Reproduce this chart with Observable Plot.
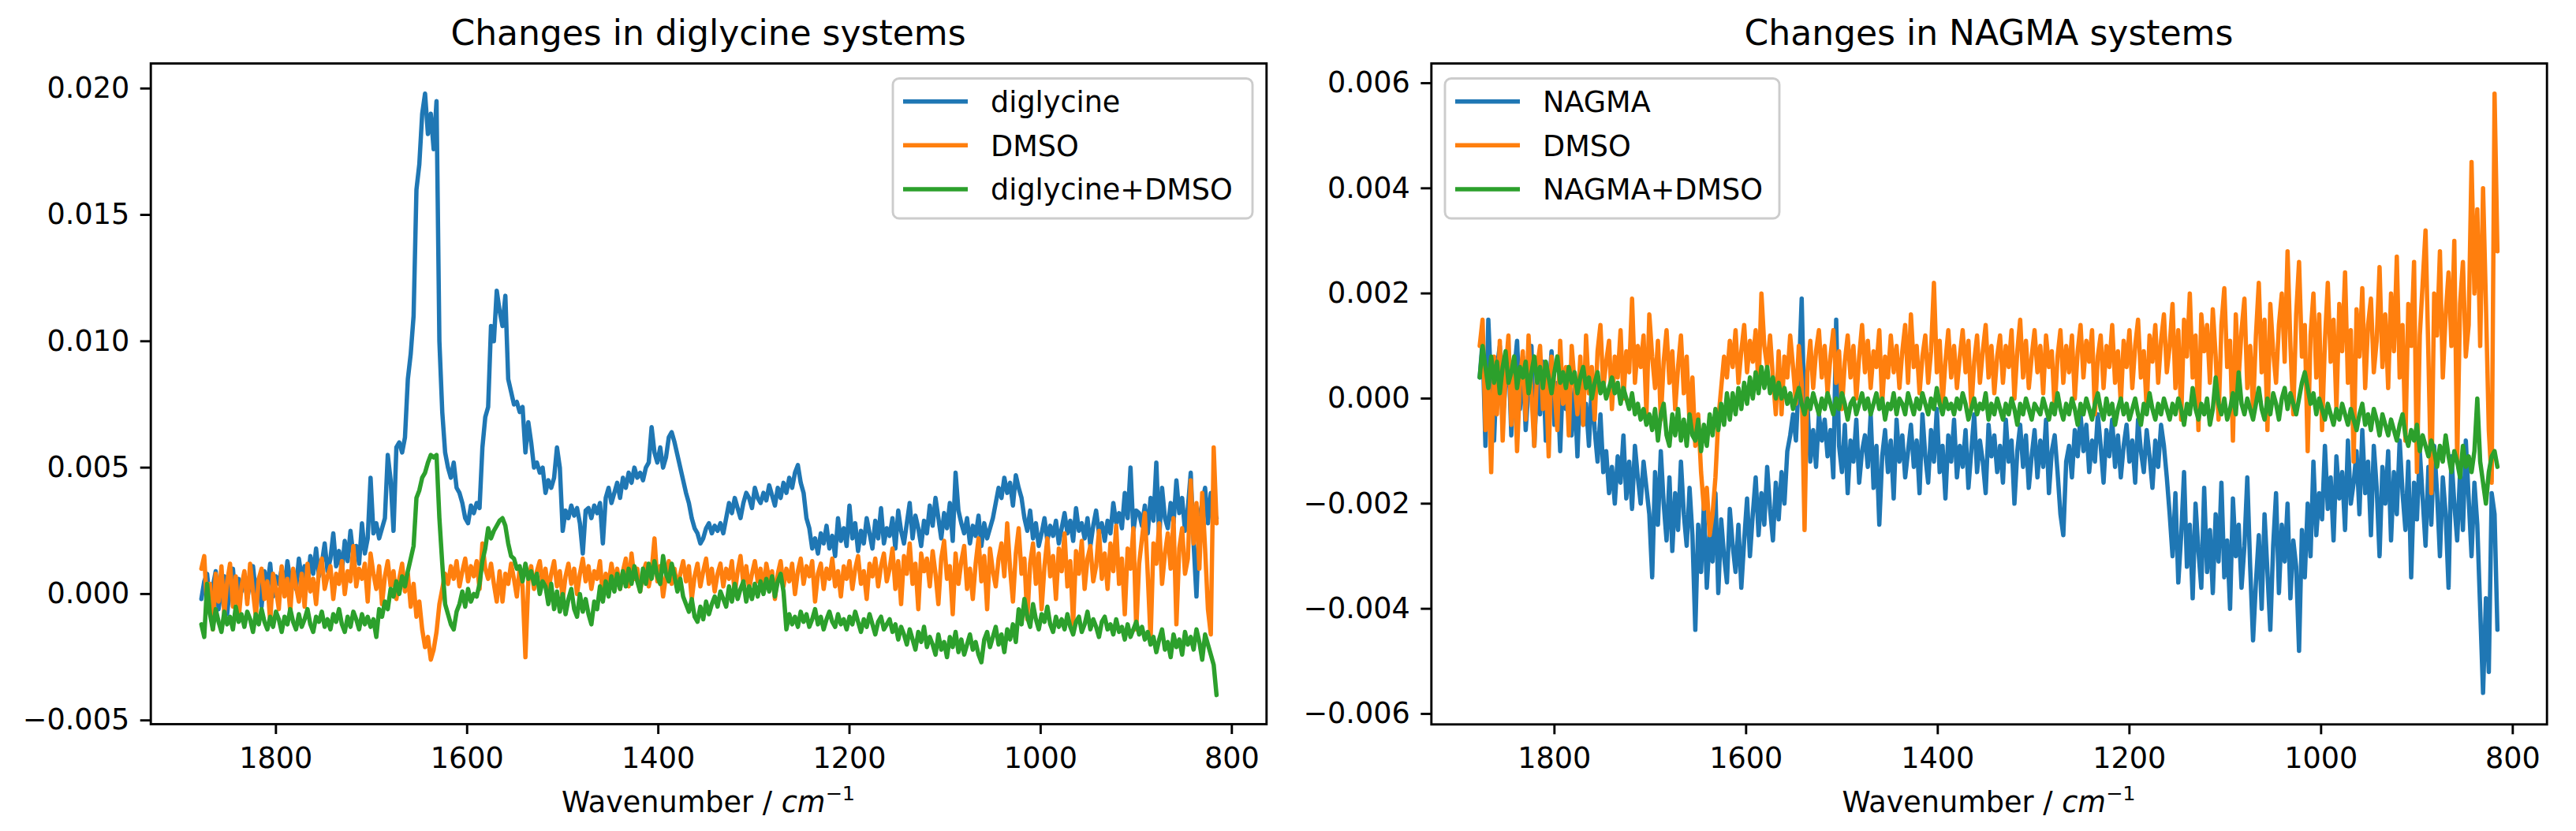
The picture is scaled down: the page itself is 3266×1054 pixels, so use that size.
<!DOCTYPE html>
<html><head><meta charset="utf-8">
<script src="https://cdn.jsdelivr.net/npm/d3@7"></script>
<script src="https://cdn.jsdelivr.net/npm/@observablehq/plot@0.6"></script>
<style>
html,body{margin:0;padding:0;background:#fff;}
#page{position:relative;width:3266px;height:1054px;overflow:hidden;font-family:"DejaVu Sans",sans-serif;background:#fff;}
.panel{position:absolute;top:0;}
#overlay{position:absolute;left:0;top:0;pointer-events:none;}
</style></head><body><div id="page"></div>
<script>
// wavenumber grid (cm^-1): one reading every 3 cm^-1, 1878 -> 816
const wavenumbers = d3.range(1878, 815, -3);

// ---- series values in units of 1e-4 (15 readings per row, 45 cm^-1 per row) ----
const diglycine = [
  -2, 5, 8, -4, 3, 9, -6, 2, 7, -8, 4, 10, -3, 6, 1,
  8, -2, 5, 11, 0, 6, -5, 9, 3, 12, -1, 7, 4, 10, 2,
  13, 5, 9, 2, 14, 6, 11, 3, 15, 8, 18, 7, 12, 20, 9,
  14, 24, 11, 17, 9, 21, 13, 25, 15, 19, 12, 28, 16, 22, 46,
  24, 28, 22, 26, 30, 55, 45, 25, 58, 60, 56, 62, 85, 95, 110,
  160, 170, 190, 198, 182, 190, 176, 195, 100, 72, 56, 50, 46, 52, 42,
  40, 36, 30, 28, 35, 32, 36, 34, 58, 70, 74, 106, 100, 120, 112,
  106, 118, 85, 80, 75, 76, 72, 74, 56, 68, 60, 50, 52, 48, 50,
  40, 45, 42, 46, 58, 50, 25, 33, 30, 35, 31, 34, 28, 16, 33,
  34, 30, 35, 32, 36, 20, 38, 42, 36, 40, 44, 38, 46, 42, 48,
  44, 50, 46, 48, 45, 50, 52, 66, 56, 52, 58, 50, 54, 62, 64,
  60, 55, 50, 45, 40, 36, 30, 26, 24, 20, 22, 26, 28, 24, 27,
  25, 28, 24, 30, 36, 32, 38, 34, 30, 36, 40, 38, 34, 42, 38,
  36, 40, 37, 43, 39, 35, 42, 38, 44, 40, 46, 42, 48, 51, 44,
  40, 30, 26, 18, 22, 16, 24, 20, 27, 18, 23, 15, 30, 21, 26,
  19, 35, 22, 28, 17, 25, 20, 30, 24, 18, 29, 22, 34, 20, 26,
  23, 30, 18, 33, 25, 20, 28, 36, 22, 31, 26, 19, 29, 24, 35,
  27, 38, 30, 22, 32, 26, 36, 21, 48, 33, 28, 24, 30, 20, 27,
  23, 31, 19, 28, 22, 26, 30, 36, 42, 38, 46, 40, 44, 35, 47,
  42, 38, 30, 25, 33, 22, 28, 19, 24, 30, 21, 27, 23, 29, 20,
  26, 32, 24, 29, 21, 34, 25, 28, 22, 30, 19, 27, 33, 24, 28,
  21, 29, 24, 36, 28, 32, 26, 40, 30, 50, 25, 33, 32, 27, 35,
  24, 38, 29, 52, 22, 42, 30, 26, 36, 28, 45, 32, 38, 25, 34,
  48, 20, -1, 30, 36, 42, 28, 40, 33, 30
];
// the same DMSO spectrum is shown in both panels
const dmso = [
  10, 15, -6, 4, -14, 8, -3, 11, -8, 5, 12, -5, 7, -10, 3,
  9, -4, 12, 1, -9, 6, 10, -2, 5, -11, 8, 2, -6, 11, -1,
  6, -7, 10, 3, -3, 8, -5, 12, 1, 6, -4, 9, 14, 2, 7,
  11, -2, 8, 4, 13, 0, 9, 5, 19, 3, 10, 6, 12, -3, 16,
  8, 2, 11, -4, 7, 13, 3, 9, -2, 6, 12, 1, 8, -5, 4,
  -9, -3, -14, -21, -17, -26, -22, -15, -4, 2, 8, 4, 11, 6, 13,
  3, 9, 14, 5, 11, 7, 13, 2, 20, 10, 6, 12, 4, -3, 9,
  -3, 8, 4, 12, 6, -1, 10, 3, -25, 5, 11, 2, 9, 13, 4,
  10, 1, 8, 13, 3, 9, -2, 7, 12, 4, 10, 0, 8, 14, 5,
  11, 2, 9, 6, 13, -1, 8, 4, 12, 5, 10, 2, 9, 14, 3,
  16, 6, 10, 1, 8, 12, 3, 9, 22, 5, 11, -1, 7, 13, 4,
  10, 2, 8, 13, 5, 11, -2, 7, 12, 3, 9, 14, 4, 10, 1,
  8, 12, 3, 10, 6, 13, 0, 9, 15, 4, 11, 2, 8, 13, 5,
  10, 1, 12, 6, 9, -2, 8, 13, 3, 10, 5, 12, 0, 9, 14,
  4, 11, 7, 13, -3, 8, 12, 2, 10, 6, 14, 3, 9, -1, 11,
  6, 13, 2, 10, 15, 4, 9, -2, 12, 7, 14, 3, 11, 16, 5,
  10, 18, 2, 13, -4, 15, 8, 20, 4, 12, -6, 16, 9, 14, 3,
  17, 8, -4, 14, 21, 6, 11, -8, 16, 4, 13, 19, 2, 10, -2,
  12, 22, 5, 15, -6, 18, 9, 3, 14, 20, 7, 28, 10, -3, 16,
  26, 8, 14, -10, 12, 20, 4, 16, -6, 11, 22, 7, 15, -2, 18,
  9, 24, 3, 13, -12, 17, 8, 21, 2, 14, 19, 5, 11, 25, 6,
  16, 2, 20, 9, 27, 4, 14, -8, 18, 10, 26, -14, 12, 22, 32,
  8, -18, 20, 12, 28, 4, 16, 24, 10, 30, -12, 18, 26, 8, 14,
  45, 20, 36, 10, 40, 18, -6, -16, 58, 28
];
const diglycineDmso = [
  -12, -17, 4, -8, -14, -6, -11, -15, -7, -12, -9, -14, -5, -11, -8,
  -13, -7, -10, -15, -8, -12, -6, -11, -14, -9, -13, -7, -10, -15, -9,
  -12, -6, -11, -14, -8, -13, -10, -6, -12, -15, -9, -11, -7, -13, -10,
  -14, -8, -11, -6, -12, -15, -9, -13, -7, -10, -14, -8, -12, -9, -13,
  -10, -17, -6, -9, -3, -6, 2, -1, 5, 0, 7, 3, 9, 14, 19,
  38, 41, 46, 48, 52, 55, 54, 55, 30, 12, -4, -8, -12, -14, -7,
  -4, 1, -5, 2, -3, 0, -1, 4, 13, 18, 26, 22, 25, 27, 29,
  30, 27, 20, 15, 14, 10, 11, 5, 12, 6, 9, 4, 8, 0, 5,
  3, -4, 4, -6, 1, -7, 0, -8, -2, 2, -6, -9, 0, -7, -2,
  -8, -12, -3, -6, 3, -3, 5, -1, 7, 1, 8, 2, 9, 3, 10,
  4, 11, 5, 1, 10, 4, 12, 6, 13, 7, 4, 15, 8, 5, 12,
  7, 1, 6, -1, -4, -7, -2, -9, -11, -5, -10, -3, -8, -4, -1,
  -5, 1, -2, -5, 3, -3, 4, -2, 2, 5, -3, 3, -2, 4, -1,
  5, 0, 6, 1, 7, -1, 5, 8, 1, -14, -8, -12, -9, -13, -7,
  -11, -8, -13, -10, -6, -12, -9, -14, -10, -7, -11, -13, -8, -12, -10,
  -14, -9, -12, -7, -11, -15, -10, -13, -8, -12, -16, -11, -9, -14, -12,
  -10, -15, -12, -18, -13, -16, -20, -14, -18, -22, -15, -19, -13, -21, -17,
  -20, -24, -16, -22, -19, -25, -17, -21, -15, -23, -18, -24, -20, -16, -22,
  -19, -24, -27, -18, -15, -21, -17, -13, -20, -16, -23, -14, -18, -12, -19,
  -6, -12, -2, -9, -13, -4, -10, -14, -8, -11, -5, -12, -15, -9, -13,
  -10, -14, -8, -13, -16, -11, -9, -15, -12, -7, -14, -10, -13, -17, -11,
  -9, -14, -12, -16, -10, -15, -13, -18, -12, -17, -14, -11, -16, -13, -18,
  -15, -20, -17, -23, -18, -14, -22, -19, -25, -16, -21, -18, -24, -15, -20,
  -17, -22, -14, -19, -26, -16, -20, -24, -28, -40
];
const nagma = [
  4, 11, -9, 15, 2, -8, 6, 10, -4, 3, 9, -7, 5, 11, -2,
  8, -6, 2, 10, -9, 4, -3, 7, -8, 1, 9, -5, 3, -10, 5,
  -2, 6, -7, 2, -11, 4, -5, -1, -9, 3, -6, -12, -3, -14, -10,
  -18, -13, -20, -11, -16, -7, -19, -12, -21, -9, -15, -20, -12, -17, -22,
  -34, -14, -24, -10, -20, -27, -15, -29, -18, -25, -12, -22, -28, -17, -26,
  -44, -24, -33, -20, -36, -26, -31, -18, -37, -23, -30, -35, -21, -28, -33,
  -24, -36, -27, -19, -30, -22, -15, -26, -18, -24, -13, -21, -27, -16, -23,
  -14, -20, -10, -7, -3, -8, 4, 19, -5, -1, -12, -6, -13, -3, -8,
  -4, -11, -6, -15, 15, -9, -14, -5, -18, -8, -12, -4, -16, -10, -7,
  -13, -3, -17, -9, -24, -11, -6, -14, -8, -19, -4, -12, -7, -15, -10,
  -5, -13, -8, -18, -3, -11, -16, -6, -12, -2, -14, -9, -19, -7, -12,
  -4, -15, -9, -13, -6, -17, -10, -3, -14, -8, -12, -18, -5, -11, -7,
  -14, -9, -16, -4, -12, -8, -20, -10, -5, -13, -7, -17, -11, -6, -15,
  -8, -13, -4, -18, -10, -7, -14, -22, -26, -12, -9, -15, -6, -11, -3,
  -10, -5, -14, -8, -12, -3, -9, -16, -6, -11, -4, -13, -7, -15, -9,
  -5, -12, -8, -16, -4, -10, -14, -6, -11, -17, -8, -13, -5, -9, -15,
  -22, -30, -18, -35, -26, -14, -32, -24, -38, -20, -29, -36, -17, -33, -25,
  -37, -22, -31, -16, -34, -27, -40, -19, -30, -24, -36, -28, -15, -32, -46,
  -35, -26, -40, -22, -33, -44, -28, -18, -37, -24, -31, -20, -38, -27, -32,
  -48, -25, -34, -20, -30, -12, -26, -18, -23, -9, -21, -15, -27, -11, -19,
  -14, -25, -8, -20, -16, -10, -22, -6, -18, -12, -26, -9, -17, -30, -13,
  -20, -10, -27, -14, -22, -8, -18, -25, -12, -34, -16, -23, -10, -19, -28,
  -13, -24, -9, -18, -30, -15, -22, -36, -11, -20, -27, -14, -25, -8, -19,
  -30, -16, -24, -40, -56, -38, -52, -18, -22, -44
];
const nagmaDmso = [
  4, 10, 6, 2, 8, 3, 7, 1, 6, 9, 3, 5, 8, 2, 6,
  4, 7, 1, 5, 8, 3, 6, 2, 7, 4, 1, 5, 8, 3, 5,
  2, 6, 3, 5, 1, 4, 6, 2, 4, 0, 3, 5, 1, 3, 0,
  2, 4, 1, 3, -1, 2, 0, -2, 1, -3, -1, -4, -2, -5, -3,
  -6, -2, -8, -3, -1, -7, -9, -3, -7, -2, -8, -4, -9, -3, -7,
  -8, -4, -10, -5, -9, -3, -7, -2, -6, -1, -5, 1, -4, 1, -3,
  2, -2, 3, -1, 4, 0, 5, 1, 6, 2, 6, 1, 4, 0, 3,
  0, 2, -1, 1, -2, 0, 2, -1, -3, 0, -2, 1, -1, -3, 0,
  -2, 1, -1, -3, 0, -2, 1, -1, -4, -1, 0, -3, -1, 1, -2,
  0, -3, -1, 1, -2, 0, -4, -1, -2, 1, -3, 0, -1, -3, 1,
  -1, -3, 0, -2, 1, -1, -3, 0, -2, 2, -1, -3, 0, -2, -1,
  -3, 0, -2, 1, -1, -4, -2, 0, -3, -1, -2, 1, -4, -1, -3,
  0, -2, -4, -1, -3, 0, -2, -5, -1, -3, 0, -2, -4, -1, -2,
  -3, 0, -2, -4, -1, -3, 1, -2, -4, -1, -3, 0, -2, -5, -1,
  -3, 0, -2, -4, -1, 1, -2, -4, 0, -3, -1, -5, -2, 0, -3,
  -1, -4, -2, 0, -3, -5, -1, -3, 1, -2, -4, -1, -3, 0, -2,
  -4, -1, -3, 0, -2, -5, -1, -3, 2, -2, -4, -1, -3, 0, -5,
  -2, 4, -1, -3, 0, -4, -2, 1, -3, 5, -1, -3, 0, -2, -4,
  -1, 2, -2, -4, 0, -3, 1, -1, -4, 0, 2, -2, 1, -1, -3,
  0, 3, 5, 2, -1, 1, -3, 0, -2, -4, -1, -3, -5, -2, -4,
  -1, -3, -5, -2, -4, -6, -3, -1, -5, -3, -6, -2, -4, -7, -3,
  -5, -7, -4, -6, -8, -5, -3, -7, -9, -6, -8, -5, -10, -7, -9,
  -11, -8, -10, -13, -9, -12, -7, -11, -14, -10, -12, -15, -9, -13, -11,
  -14, -10, 0, -12, -16, -20, -14, -11, -10, -13
];

const xTicks = [1800, 1600, 1400, 1200, 1000, 800];
const yTicksLeft = [-0.005, 0, 0.005, 0.010, 0.015, 0.020];
const yTicksRight = [-0.006, -0.004, -0.002, 0, 0.002, 0.004, 0.006];
const colors = ["#1f77b4", "#ff7f0e", "#2ca02c"];
const leftNames = ["diglycine", "DMSO", "diglycine+DMSO"];
const rightNames = ["NAGMA", "DMSO", "NAGMA+DMSO"];
const titles = ["Changes in diglycine systems", "Changes in NAGMA systems"];

const FS = 36.6;

function rows(values) {
  const n = Math.min(values.length, wavenumbers.length);
  const out = [];
  for (let i = 0; i < n; i++) out.push({wn: wavenumbers[i], v: values[i] / 1e4});
  return out;
}

function makePanel(opts) {
  const chart = Plot.plot({
    width: 1633, height: 1054,
    marginLeft: opts.marginLeft, marginRight: opts.marginRight,
    marginTop: 80, marginBottom: opts.marginBottom,
    style: {fontFamily: "DejaVu Sans", fontSize: FS + "px", color: "#000", background: "transparent", overflow: "visible"},
    x: {domain: opts.xDomain},
    y: {domain: opts.yDomain},
    marks: [
      ...opts.series.map((s, k) => Plot.line(rows(s), {x: "wn", y: "v", stroke: colors[k], strokeWidth: 5.5})),
      Plot.frame({stroke: "#000", strokeWidth: 2.9}),
      Plot.axisX({ticks: xTicks, tickFormat: d => String(d), tickSize: 13, tickPadding: 16, strokeWidth: 2.9, fontSize: FS, label: null}),
      Plot.axisY({ticks: opts.yTicks, tickFormat: d3.format(".3f"), tickSize: 13, tickPadding: 14, strokeWidth: 2.9, fontSize: FS, label: null})
    ]
  });
  const wrap = document.createElement("div");
  wrap.className = "panel";
  wrap.style.left = opts.left + "px";
  wrap.appendChild(chart);
  document.getElementById("page").appendChild(wrap);
}

makePanel({
  left: 0, marginLeft: 190.7, marginRight: 1633 - 1605.3, marginBottom: 1054 - 918,
  xDomain: [1930.9, 763.7], yDomain: [-0.00515, 0.02099], yTicks: yTicksLeft,
  series: [diglycine, dmso, diglycineDmso]
});
makePanel({
  left: 1633, marginLeft: 1814.3 - 1633, marginRight: 3266 - 3228.7, marginBottom: 1054 - 918.3,
  xDomain: [1928.4, 764.3], yDomain: [-0.0062, 0.006375], yTicks: yTicksRight,
  series: [nagma, dmso, nagmaDmso]
});

// overlay: titles, axis labels, legends
const svg = d3.select("#page").append("svg").attr("id", "overlay")
  .attr("width", 3266).attr("height", 1054)
  .style("font-family", "DejaVu Sans");

const panels = [
  {cx: 898, legendX: 1132, legendW: 456, names: leftNames},
  {cx: 2521.5, legendX: 1832, legendW: 424, names: rightNames}
];
panels.forEach((p, j) => {
  svg.append("text").attr("x", p.cx).attr("y", 57).attr("text-anchor", "middle")
    .attr("font-size", 44).attr("fill", "#000").text(titles[j]);
  const lab = svg.append("text").attr("x", p.cx).attr("y", 1030).attr("text-anchor", "middle")
    .attr("font-size", FS).attr("fill", "#000");
  lab.append("tspan").text("Wavenumber / ");
  lab.append("tspan").attr("font-style", "italic").text("cm");
  lab.append("tspan").attr("font-size", 25.6).attr("dy", -15).text("\u22121");

  svg.append("rect").attr("x", p.legendX).attr("y", 99.5).attr("width", p.legendW).attr("height", 177.5)
    .attr("rx", 8).attr("fill", "#fff").attr("fill-opacity", 0.8)
    .attr("stroke", "#cccccc").attr("stroke-width", 2.9);
  const rowsY = [128.7, 184.3, 240];
  p.names.forEach((name, k) => {
    svg.append("line").attr("x1", p.legendX + 13).attr("x2", p.legendX + 95)
      .attr("y1", rowsY[k]).attr("y2", rowsY[k])
      .attr("stroke", colors[k]).attr("stroke-width", 5.5);
    svg.append("text").attr("x", p.legendX + 124).attr("y", rowsY[k] + 13.3)
      .attr("font-size", FS).attr("fill", "#000").text(name);
  });
});
</script></body></html>
